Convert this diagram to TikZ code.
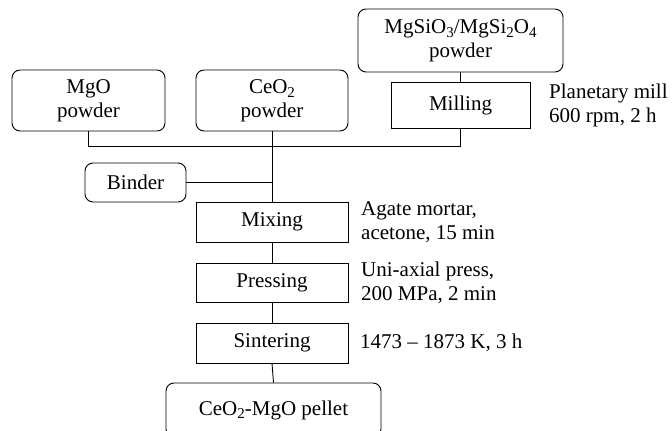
\documentclass[tikz,border=0pt]{standalone}
\usepackage{fontspec}
\setmainfont{Liberation Serif}
\newcommand\dn[1]{\raisebox{-0.4ex}{\fontsize{15}{15}\selectfont #1}}
\tikzset{
  rbox/.style={draw, rounded corners=8pt, line width=0.9pt, align=center, inner sep=0pt},
  sbox/.style={draw, line width=0.9pt, align=center, inner sep=0pt},
  note/.style={anchor=west, align=left, inner sep=0pt},
  conn/.style={line width=0.9pt}
}
\begin{document}
\begin{tikzpicture}[x=1pt, y=-1pt, font=\fontsize{21}{24}\selectfont]
\useasboundingbox (0,0) rectangle (672,431);
\node[rbox, minimum width=153pt, minimum height=61pt] (mgo) at (88.5,100.5) {MgO\\powder};
\node[rbox, minimum width=152pt, minimum height=61pt] (ceo) at (272,100.5) {CeO\dn{2}\\powder};
\node[rbox, minimum width=205pt, minimum height=63pt] (mgsi) at (460.5,40.5) {MgSiO\dn{3}/MgSi\dn{2}O\dn{4}\\powder};
\node[sbox, minimum width=139pt, minimum height=46pt] (mill) at (460.5,105) {Milling};
\node[rbox, minimum width=101pt, minimum height=39pt] (binder) at (135.5,182.5) {Binder};
\node[sbox, minimum width=152pt, minimum height=40pt] (mix) at (272,222) {Mixing};
\node[sbox, minimum width=152pt, minimum height=39pt] (press) at (272,282.5) {Pressing};
\node[sbox, minimum width=152pt, minimum height=40pt] (sint) at (272,343) {Sintering};
\node[rbox, minimum width=215pt, minimum height=54pt] (pellet) at (273.5,410) {CeO\dn{2}-MgO pellet};
\coordinate (hl) at (272,146);
\node[note] (n1) at (549,105) {Planetary mill\\600 rpm, 2 h};
\node[note] (n2) at (361,222) {Agate mortar,\\acetone, 15 min};
\node[note] (n3) at (361,282.5) {Uni-axial press,\\200 MPa, 2 min};
\node[note] (n4) at (360,343) {1473 -- 1873 K, 3 h};
\draw[conn] (mgo.south) |- (mill.south |- hl) -- (mill.south);
\draw[conn] (mgsi.south) -- (mill.north);
\draw[conn] (ceo.south) -- (mix.north);
\draw[conn] (binder.east) -- (binder.east -| mix.north);
\draw[conn] (mix.south) -- (press.north);
\draw[conn] (press.south) -- (sint.north);
\draw[conn] (sint.south) -- (pellet.north);
\end{tikzpicture}
\end{document}
